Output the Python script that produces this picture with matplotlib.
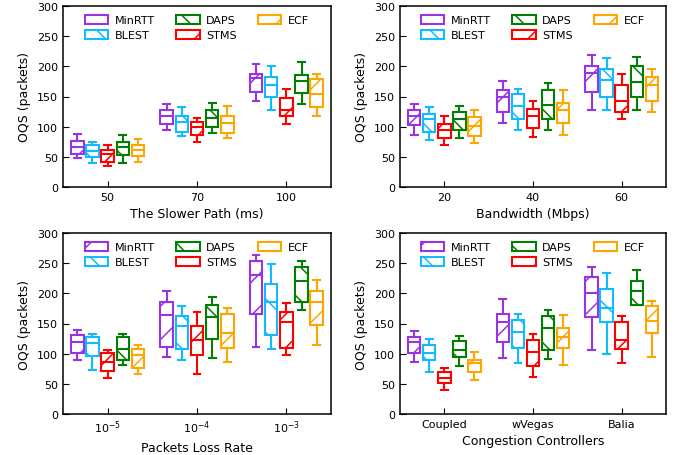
import matplotlib
matplotlib.use("Agg")
import matplotlib.pyplot as plt
import matplotlib.patches as mpatches

methods = ["MinRTT", "BLEST", "STMS", "DAPS", "ECF"]
colors = {"MinRTT": "#9A32E6", "BLEST": "#10BBFF", "STMS": "#FF0000",
          "DAPS": "#008000", "ECF": "#FFA500"}
hatches = {"MinRTT": "/", "BLEST": "\\", "STMS": "/", "DAPS": "\\", "ECF": "/"}

# each entry: [whisker low, q1, median, q3, whisker high] per group
slower_labels = ["50", "70", "100"]
slower_stats = {
    "MinRTT": [[48, 55, 67, 77, 88], [94, 105, 118, 127, 138], [143, 158, 180, 187, 204]],
    "BLEST": [[40, 50, 60, 70, 74], [85, 91, 108, 118, 132], [127, 149, 169, 182, 201]],
    "STMS": [[34, 42, 55, 62, 69], [75, 86, 99, 107, 114], [105, 117, 127, 147, 162]],
    "DAPS": [[40, 53, 66, 74, 87], [89, 99, 114, 127, 140], [138, 155, 176, 185, 207]],
    "ECF": [[42, 51, 62, 70, 80], [81, 90, 106, 117, 135], [117, 132, 154, 179, 187]],
}

bw_labels = ["20", "40", "60"]
bw_stats = {
    "MinRTT": [[86, 103, 118, 128, 138], [106, 124, 149, 160, 176], [128, 158, 189, 201, 218]],
    "BLEST": [[78, 91, 112, 121, 132], [94, 112, 135, 154, 163], [127, 150, 177, 195, 213]],
    "STMS": [[69, 81, 95, 105, 118], [83, 97, 118, 130, 143], [112, 124, 143, 169, 187]],
    "DAPS": [[81, 95, 112, 124, 135], [95, 112, 136, 160, 172], [127, 150, 174, 201, 216]],
    "ECF": [[73, 85, 101, 116, 128], [86, 106, 128, 140, 161], [124, 142, 169, 183, 195]],
}

loss_labels = ["$10^{-5}$", "$10^{-4}$", "$10^{-3}$"]
loss_stats = {
    "MinRTT": [[89, 101, 120, 131, 140], [95, 111, 164, 186, 204], [111, 165, 230, 254, 264]],
    "BLEST": [[73, 96, 117, 128, 132], [90, 108, 146, 163, 179], [107, 131, 186, 215, 249]],
    "STMS": [[59, 72, 87, 101, 106], [66, 98, 122, 146, 169], [98, 109, 152, 169, 184]],
    "DAPS": [[81, 89, 107, 128, 133], [92, 124, 160, 180, 194], [173, 186, 221, 243, 254]],
    "ECF": [[66, 76, 98, 107, 114], [87, 110, 135, 165, 175], [114, 148, 186, 204, 222]],
}

cc_labels = ["Coupled", "wVegas", "Balia"]
cc_stats = {
    "MinRTT": [[86, 101, 120, 128, 138], [93, 120, 152, 165, 190], [106, 161, 201, 227, 244]],
    "BLEST": [[70, 89, 101, 114, 124], [85, 110, 136, 155, 165], [99, 152, 175, 208, 233]],
    "STMS": [[40, 51, 60, 70, 76], [62, 79, 103, 122, 132], [84, 108, 122, 152, 162]],
    "DAPS": [[79, 95, 106, 121, 129], [91, 106, 143, 162, 173], [180, 181, 204, 220, 239]],
    "ECF": [[57, 70, 85, 90, 103], [81, 109, 127, 143, 164], [95, 134, 154, 179, 188]],
}

panels = [
    (slower_stats, slower_labels, "The Slower Path (ms)"),
    (bw_stats, bw_labels, "Bandwidth (Mbps)"),
    (loss_stats, loss_labels, "Packets Loss Rate"),
    (cc_stats, cc_labels, "Congestion Controllers"),
]

plt.rcParams["hatch.linewidth"] = 1.1
fig = plt.figure(figsize=(6.86, 4.56), dpi=100)
rects = [
    [63 / 686, 1 - 188 / 456, 268 / 686, 181 / 456],
    [400 / 686, 1 - 188 / 456, 266 / 686, 181 / 456],
    [63 / 686, 1 - 415 / 456, 268 / 686, 181 / 456],
    [400 / 686, 1 - 415 / 456, 266 / 686, 181 / 456],
]

step = 0.17
width = 0.14
for (stats, labels, xlabel), rect in zip(panels, rects):
    ax = fig.add_axes(rect)
    for k, m in enumerate(methods):
        c = colors[m]
        boxes = []
        for vals in stats[m]:
            lo, q1, med, q3, hi = vals
            boxes.append({"whislo": lo, "q1": q1, "med": med, "q3": q3,
                          "whishi": hi, "fliers": []})
        pos = [g + (k - 2) * step for g in range(len(labels))]
        ax.bxp(boxes, positions=pos, widths=width, patch_artist=True,
               showfliers=False, manage_ticks=False,
               boxprops=dict(facecolor="white", edgecolor=c, linewidth=1.5, hatch=hatches[m]),
               medianprops=dict(color=c, linewidth=1.5),
               whiskerprops=dict(color=c, linewidth=1.5),
               capprops=dict(color=c, linewidth=1.5),
               capwidths=width * 0.55)
    ax.set_xlim(-0.5, 2.5)
    ax.set_ylim(0, 300)
    ax.set_yticks(range(0, 301, 50))
    ax.set_xticks(range(len(labels)))
    ax.set_xticklabels(labels)
    ax.tick_params(direction="in", labelsize=8, length=4)
    ax.set_xlabel(xlabel, fontsize=9)
    ax.set_ylabel("OQS (packets)", fontsize=9)
    for s in ax.spines.values():
        s.set_linewidth(1.1)
    order = ["MinRTT", "BLEST", "DAPS", "STMS", "ECF"]
    handles = [mpatches.Patch(facecolor="white", edgecolor=colors[m], hatch=hatches[m],
                              linewidth=1.5, label=m) for m in order]
    ax.legend(handles=handles, ncol=3, loc="upper center", frameon=False,
              fontsize=8, handlelength=2.1, handleheight=0.85, handletextpad=0.6,
              columnspacing=1.9, labelspacing=0.45, borderaxespad=0.4)

fig.savefig("out.png", dpi=100)
